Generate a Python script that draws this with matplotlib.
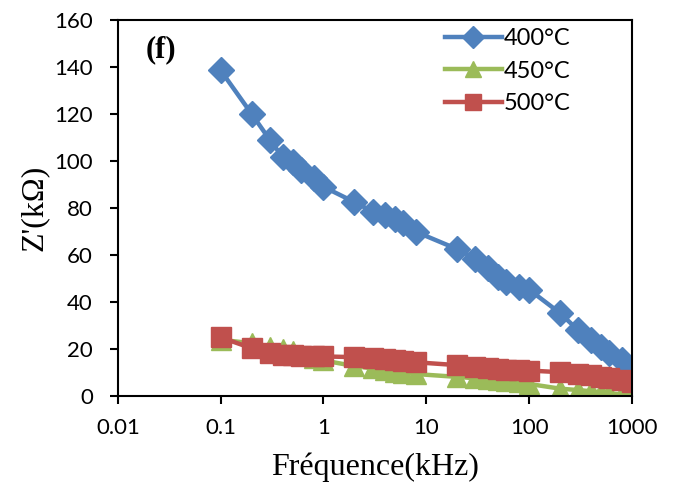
import numpy as np
import matplotlib.pyplot as plt

freq = [0.1, 0.2, 0.3, 0.4, 0.5, 0.6, 0.8, 1, 2, 3, 4, 5, 6, 8,
        20, 30, 40, 50, 60, 80, 100, 200, 300, 400, 500, 600, 800, 1000]

z_400 = [138.5, 120, 109, 101.7, 99.5, 96, 92.8, 89, 82.5, 78.5, 77, 75.5, 73.5, 69.8,
         62.5, 58.5, 54.5, 50.8, 48.5, 46.4, 45.3, 35.3, 28, 23.8, 21, 18.3, 15.3, 12.3]
z_450 = [24, 22.5, 21, 20.2, 19, 17.5, 16.3, 15.2, 12.8, 11.8, 11, 10.4, 10, 9.4,
         8.2, 7.6, 7.1, 6.8, 6.4, 6, 5.2, 3.2, 2.6, 2.1, 1.6, 1.2, 0.8, 0.4]
z_500 = [25, 20.4, 18.3, 17.6, 17.4, 17.1, 17, 16.9, 16.6, 16.3, 16, 15.4, 15, 14.4,
         13.2, 12.5, 12, 11.7, 11.3, 11, 10.9, 10.2, 9.5, 9, 8.3, 7.6, 7, 6.2]

labels = ['400°C', '450°C', '500°C']
colors = ['#4F81BD', '#9BBB59', '#C0504D']

fig = plt.figure(figsize=(6.81, 4.94), dpi=100)
ax = fig.add_axes([0.173, 0.198, 0.755, 0.762])

ax.plot(freq, z_400, color=colors[0], marker='D', markersize=13, lw=3.2, label=labels[0])
ax.plot(freq, z_450, color=colors[1], marker='^', markersize=14, lw=3.2, label=labels[1])
ax.plot(freq, z_500, color=colors[2], marker='s', markersize=14, lw=3.2, label=labels[2])

ax.set_xscale('log')
ax.set_xlim(0.01, 1000)
ax.set_ylim(0, 160)
ax.set_yticks(np.arange(0, 161, 20))
ax.set_xticks([0.01, 0.1, 1, 10, 100, 1000])
ax.set_xticklabels(['0.01', '0.1', '1', '10', '100', '1000'])
ax.minorticks_off()

for s in ax.spines.values():
    s.set_linewidth(1.5)
    s.set_color('black')
ax.tick_params(axis='both', direction='out', length=6, width=1.5, labelsize=16)
ax.tick_params(axis='y', pad=12)
ax.tick_params(axis='x', pad=10)
for t in ax.get_xticklabels() + ax.get_yticklabels():
    t.set_fontfamily('Lato')

ax.set_xlabel('Fréquence(kHz)', fontsize=23, fontfamily='Liberation Serif', labelpad=10)
ax.set_ylabel("Z'(kΩ)", fontsize=23, fontfamily='Liberation Serif', labelpad=4)

ax.text(0.055, 0.9, '(f)', transform=ax.transAxes, fontsize=22,
        fontweight='bold', fontfamily='Liberation Serif')

leg = ax.legend(loc='upper left', bbox_to_anchor=(0.595, 1.035), frameon=False,
                prop={'family': 'Lato', 'size': 17}, handlelength=2.4,
                handletextpad=0.1, labelspacing=0.5, markerscale=0.85)

fig.savefig('out.png', dpi=100)
